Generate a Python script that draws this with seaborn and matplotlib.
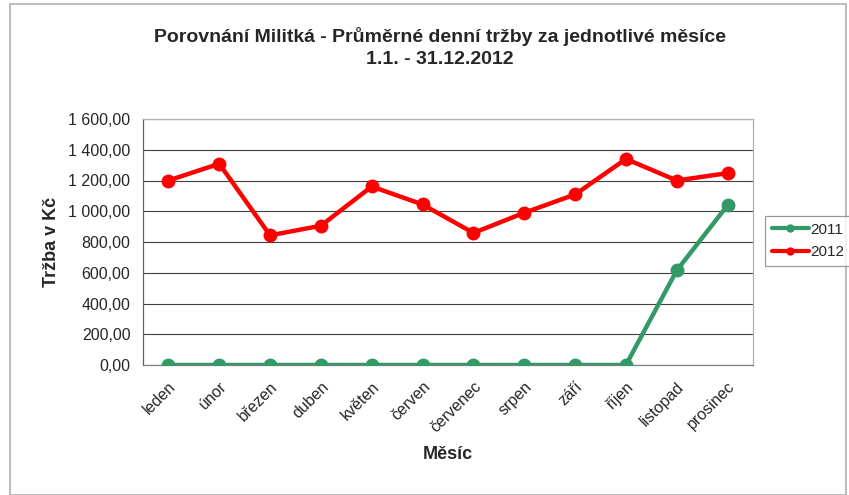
import matplotlib
matplotlib.use("Agg")
import matplotlib.pyplot as plt
import seaborn as sns
import pandas as pd
from matplotlib.patches import Rectangle
from matplotlib.ticker import FuncFormatter, FixedLocator

months = ["leden", "únor", "březen", "duben", "květen", "červen", "červenec",
          "srpen", "září", "říjen", "listopad", "prosinec"]
sales_2011 = [0, 0, 0, 0, 0, 0, 0, 0, 0, 0, 615, 1039]
sales_2012 = [1200, 1309, 843, 906, 1161, 1044, 859, 990, 1109, 1340, 1200, 1248]
years = ["2011", "2012"]
colors = {"2011": "#339966", "2012": "#FF0000"}

df = pd.concat([
    pd.DataFrame({"Měsíc": months, "pos": range(12), "Tržba": sales_2011, "Rok": "2011"}),
    pd.DataFrame({"Měsíc": months, "pos": range(12), "Tržba": sales_2012, "Rok": "2012"}),
])

sns.set_style("white")
plt.rcParams["font.family"] = ["Liberation Sans", "DejaVu Sans"]

W, H = 849, 495
fig = plt.figure(figsize=(W / 100, H / 100), dpi=100)
ax = fig.add_axes([143 / W, 1 - 365 / H, (753 - 143) / W, (365 - 119) / H])

sns.lineplot(data=df, x="pos", y="Tržba", hue="Rok", hue_order=years, palette=colors,
             marker="o", markersize=10, markeredgewidth=0, linewidth=3.2, ax=ax,
             legend=False, zorder=3)

ax.set_xlim(-0.5, 11.5)
ax.set_ylim(0, 1600)
ax.set_yticks(range(0, 1601, 200))
ax.yaxis.set_major_formatter(FuncFormatter(
    lambda v, p: f"{v:,.2f}".replace(",", " ").replace(".", ",")))
ax.set_xticks(range(12))
ax.set_xticklabels(months, rotation=45, ha="right", rotation_mode="anchor")
ax.xaxis.set_minor_locator(FixedLocator([i - 0.5 for i in range(13)]))
ax.tick_params(axis="x", which="major", length=0, pad=10, labelsize=11.5)
ax.tick_params(axis="x", which="minor", length=5, direction="out", color="#808080", width=0.8)
ax.tick_params(axis="y", length=5, direction="out", color="#606060", width=0.8,
               labelsize=11.5, pad=4)
ax.yaxis.grid(True, color="#404040", linewidth=0.8)
ax.set_axisbelow(True)
for side in ["top", "right"]:
    ax.spines[side].set_color("#b0b0b0")
ax.spines["left"].set_color("#606060")
ax.spines["bottom"].set_color("#808080")
for s in ax.spines.values():
    s.set_linewidth(0.9)

ax.set_xlabel("Měsíc", fontsize=13, fontweight="bold", labelpad=8)
ax.set_ylabel("Tržba v Kč", fontsize=13, fontweight="bold", labelpad=6)

fig.text(440 / W, 1 - 37 / H, "Porovnání Militká - Průměrné denní tržby za jednotlivé měsíce",
         ha="center", va="center", fontsize=14, fontweight="bold")
fig.text(440 / W, 1 - 59 / H, "1.1. - 31.12.2012",
         ha="center", va="center", fontsize=14, fontweight="bold")

handles = [plt.Line2D([], [], color=colors[y], marker="o", markersize=6, linewidth=3,
                      markeredgewidth=0) for y in years]
leg = fig.legend(handles, years, loc="center left", bbox_to_anchor=(765 / W, 1 - 241 / H),
                 frameon=True, fancybox=False, edgecolor="#808080", fontsize=11,
                 handlelength=2.4, handletextpad=0.1, borderpad=0.45, labelspacing=0.55,
                 borderaxespad=0)
leg.get_frame().set_linewidth(0.9)

fig.patches.append(Rectangle((10 / W, 0), (W - 13) / W, 1 - 4 / H, transform=fig.transFigure,
                             fill=False, edgecolor="#b0b0b0", linewidth=1.2))

fig.savefig("out.png", dpi=100)
